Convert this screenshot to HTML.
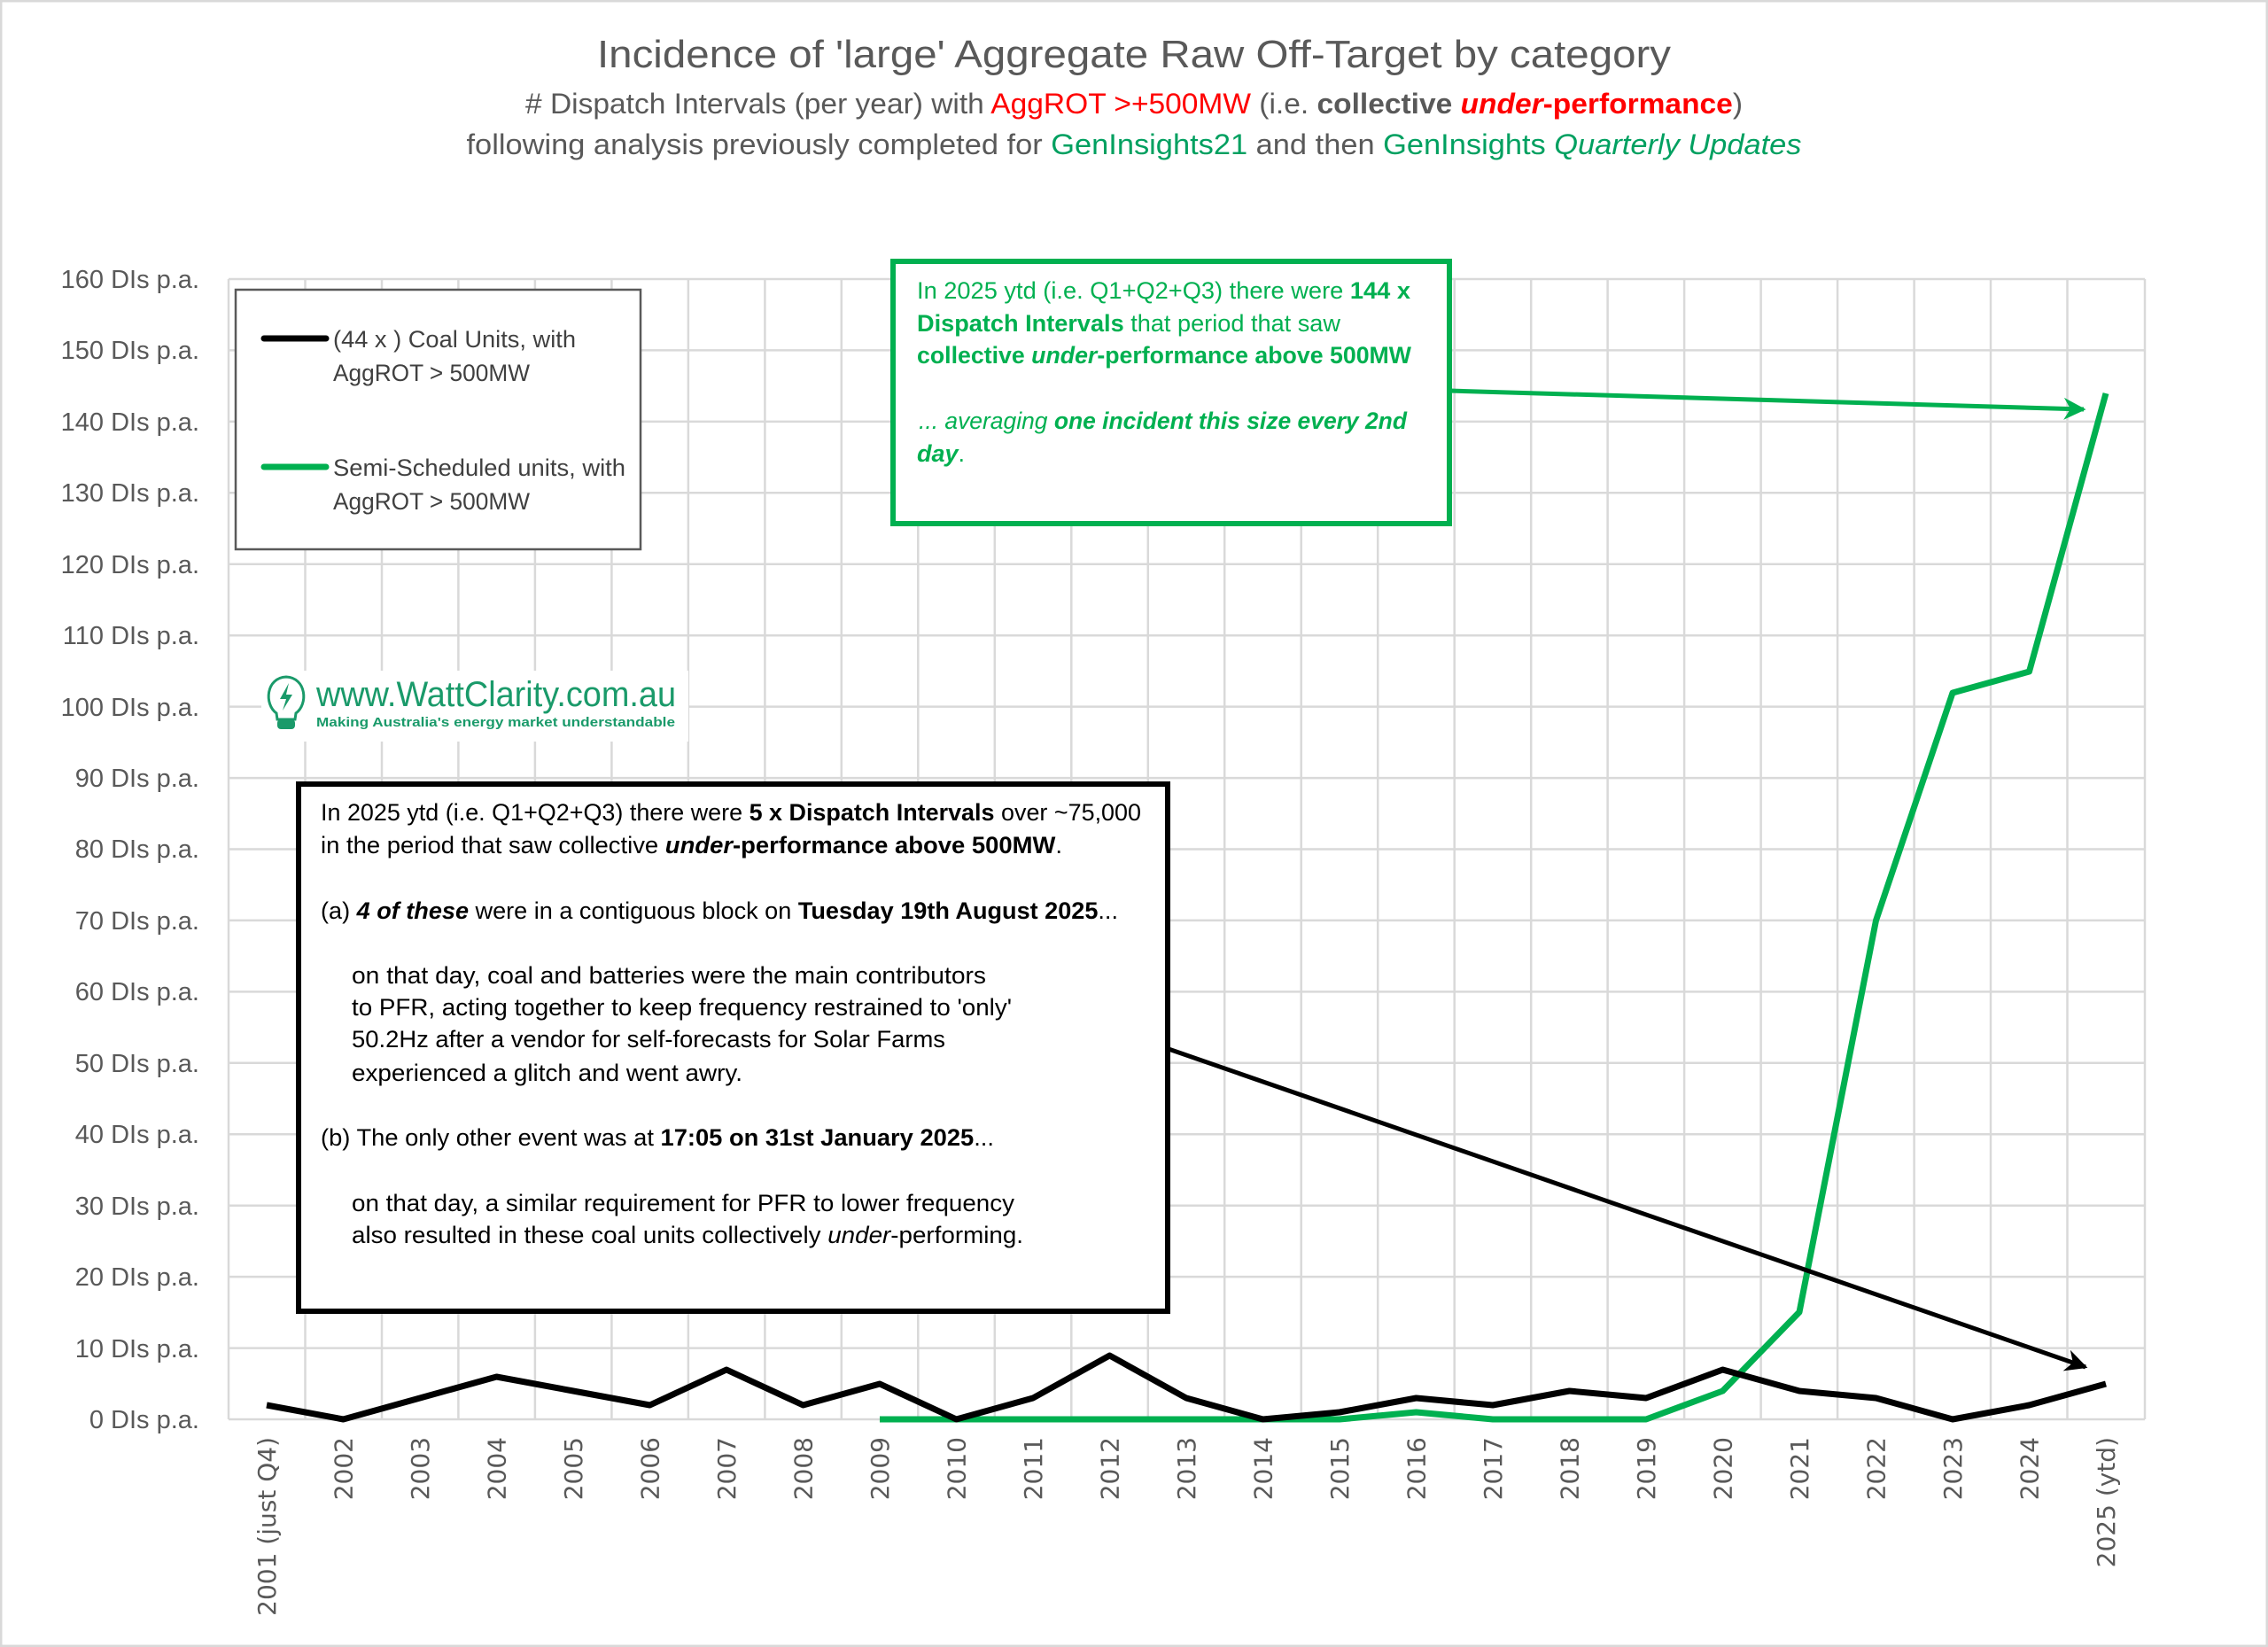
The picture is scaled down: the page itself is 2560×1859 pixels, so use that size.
<!DOCTYPE html>
<html><head><meta charset="utf-8"><style>
html,body{margin:0;padding:0;background:#fff;}
svg{display:block;}
</style></head><body>
<svg width="2560" height="1859" viewBox="0 0 2560 1859" xmlns="http://www.w3.org/2000/svg" font-family="Liberation Sans, sans-serif">
<defs>
<marker id="ab" viewBox="0 0 10 10" refX="9" refY="5" markerWidth="5" markerHeight="5" orient="auto" markerUnits="strokeWidth"><path d="M0,0 L10,5 L0,10 L3,5 z" fill="#000"/></marker>
<marker id="ag" viewBox="0 0 10 10" refX="9" refY="5" markerWidth="5" markerHeight="5" orient="auto" markerUnits="strokeWidth"><path d="M0,0 L10,5 L0,10 L3,5 z" fill="#00b050"/></marker>
</defs>
<rect x="1" y="1" width="2558" height="1857" fill="#fff" stroke="#d9d9d9" stroke-width="3"/>
<text x="1280" y="76" text-anchor="middle" font-size="44" fill="#595959" textLength="1212" lengthAdjust="spacingAndGlyphs">Incidence of 'large' Aggregate Raw Off-Target by category</text>
<text x="1280" y="128" text-anchor="middle" font-size="32" fill="#595959" textLength="1374" lengthAdjust="spacingAndGlyphs"># Dispatch Intervals (per year) with <tspan fill="#ff0000">AggROT &gt;+500MW</tspan> (i.e. <tspan font-weight="bold">collective</tspan> <tspan fill="#ff0000" font-weight="bold"><tspan font-style="italic">under</tspan>-performance</tspan>)</text>
<text x="1280" y="174" text-anchor="middle" font-size="32" fill="#595959" textLength="1507" lengthAdjust="spacingAndGlyphs">following analysis previously completed for <tspan fill="#00a060">GenInsights21</tspan> and then <tspan fill="#00a060">GenInsights <tspan font-style="italic">Quarterly Updates</tspan></tspan></text>
<g stroke="#d9d9d9" stroke-width="2.5">
<line x1="258" y1="1602" x2="2421" y2="1602"/>
<line x1="258" y1="1521.6" x2="2421" y2="1521.6"/>
<line x1="258" y1="1441.1" x2="2421" y2="1441.1"/>
<line x1="258" y1="1360.7" x2="2421" y2="1360.7"/>
<line x1="258" y1="1280.2" x2="2421" y2="1280.2"/>
<line x1="258" y1="1199.8" x2="2421" y2="1199.8"/>
<line x1="258" y1="1119.4" x2="2421" y2="1119.4"/>
<line x1="258" y1="1038.9" x2="2421" y2="1038.9"/>
<line x1="258" y1="958.5" x2="2421" y2="958.5"/>
<line x1="258" y1="878.1" x2="2421" y2="878.1"/>
<line x1="258" y1="797.6" x2="2421" y2="797.6"/>
<line x1="258" y1="717.2" x2="2421" y2="717.2"/>
<line x1="258" y1="636.7" x2="2421" y2="636.7"/>
<line x1="258" y1="556.3" x2="2421" y2="556.3"/>
<line x1="258" y1="475.9" x2="2421" y2="475.9"/>
<line x1="258" y1="395.4" x2="2421" y2="395.4"/>
<line x1="258" y1="315" x2="2421" y2="315"/>
<line x1="258" y1="315" x2="258" y2="1602"/><line x1="344.5" y1="315" x2="344.5" y2="1602"/><line x1="431" y1="315" x2="431" y2="1602"/><line x1="517.4" y1="315" x2="517.4" y2="1602"/><line x1="603.9" y1="315" x2="603.9" y2="1602"/><line x1="690.4" y1="315" x2="690.4" y2="1602"/><line x1="776.9" y1="315" x2="776.9" y2="1602"/><line x1="863.4" y1="315" x2="863.4" y2="1602"/><line x1="949.8" y1="315" x2="949.8" y2="1602"/><line x1="1036.3" y1="315" x2="1036.3" y2="1602"/><line x1="1122.8" y1="315" x2="1122.8" y2="1602"/><line x1="1209.3" y1="315" x2="1209.3" y2="1602"/><line x1="1295.8" y1="315" x2="1295.8" y2="1602"/><line x1="1382.2" y1="315" x2="1382.2" y2="1602"/><line x1="1468.7" y1="315" x2="1468.7" y2="1602"/><line x1="1555.2" y1="315" x2="1555.2" y2="1602"/><line x1="1641.7" y1="315" x2="1641.7" y2="1602"/><line x1="1728.2" y1="315" x2="1728.2" y2="1602"/><line x1="1814.6" y1="315" x2="1814.6" y2="1602"/><line x1="1901.1" y1="315" x2="1901.1" y2="1602"/><line x1="1987.6" y1="315" x2="1987.6" y2="1602"/><line x1="2074.1" y1="315" x2="2074.1" y2="1602"/><line x1="2160.6" y1="315" x2="2160.6" y2="1602"/><line x1="2247" y1="315" x2="2247" y2="1602"/><line x1="2333.5" y1="315" x2="2333.5" y2="1602"/><line x1="2421" y1="315" x2="2421" y2="1602"/>
</g>
<g font-size="29" fill="#595959" text-anchor="end">
<text x="225" y="1612">0 DIs p.a.</text>
<text x="225" y="1532">10 DIs p.a.</text>
<text x="225" y="1451">20 DIs p.a.</text>
<text x="225" y="1371">30 DIs p.a.</text>
<text x="225" y="1290">40 DIs p.a.</text>
<text x="225" y="1210">50 DIs p.a.</text>
<text x="225" y="1129">60 DIs p.a.</text>
<text x="225" y="1049">70 DIs p.a.</text>
<text x="225" y="968">80 DIs p.a.</text>
<text x="225" y="888">90 DIs p.a.</text>
<text x="225" y="808">100 DIs p.a.</text>
<text x="225" y="727">110 DIs p.a.</text>
<text x="225" y="647">120 DIs p.a.</text>
<text x="225" y="566">130 DIs p.a.</text>
<text x="225" y="486">140 DIs p.a.</text>
<text x="225" y="405">150 DIs p.a.</text>
<text x="225" y="325">160 DIs p.a.</text>
</g>
<g font-family="DejaVu Sans, sans-serif" font-size="28" fill="#595959" text-anchor="end">
<text transform="translate(311,1622) rotate(-90)">2001 (just Q4)</text>
<text transform="translate(397.5,1622) rotate(-90)">2002</text>
<text transform="translate(484,1622) rotate(-90)">2003</text>
<text transform="translate(570.5,1622) rotate(-90)">2004</text>
<text transform="translate(657,1622) rotate(-90)">2005</text>
<text transform="translate(743.5,1622) rotate(-90)">2006</text>
<text transform="translate(830,1622) rotate(-90)">2007</text>
<text transform="translate(916.5,1622) rotate(-90)">2008</text>
<text transform="translate(1003,1622) rotate(-90)">2009</text>
<text transform="translate(1089.5,1622) rotate(-90)">2010</text>
<text transform="translate(1176,1622) rotate(-90)">2011</text>
<text transform="translate(1262.5,1622) rotate(-90)">2012</text>
<text transform="translate(1349,1622) rotate(-90)">2013</text>
<text transform="translate(1435.5,1622) rotate(-90)">2014</text>
<text transform="translate(1522,1622) rotate(-90)">2015</text>
<text transform="translate(1608.5,1622) rotate(-90)">2016</text>
<text transform="translate(1695,1622) rotate(-90)">2017</text>
<text transform="translate(1781.5,1622) rotate(-90)">2018</text>
<text transform="translate(1868,1622) rotate(-90)">2019</text>
<text transform="translate(1954.5,1622) rotate(-90)">2020</text>
<text transform="translate(2041,1622) rotate(-90)">2021</text>
<text transform="translate(2127.5,1622) rotate(-90)">2022</text>
<text transform="translate(2214,1622) rotate(-90)">2023</text>
<text transform="translate(2300.5,1622) rotate(-90)">2024</text>
<text transform="translate(2387,1622) rotate(-90)">2025 (ytd)</text>
</g>
<rect x="295" y="757" width="482" height="80" fill="#fff"/>
<g fill="none" stroke="#1a9a6a" stroke-width="3">
<path d="M312,805 C298,795 300,765 323,764 C346,765 348,795 334,805 L333,812 L313,812 Z"/>
</g>
<rect x="313" y="812" width="20" height="11" rx="4" fill="#1a9a6a"/>
<path d="M326,771 L316,789 L323,789 L319,802 L330,784 L323,784 Z" fill="#1a9a6a"/>
<text x="357" y="797" font-size="40" fill="#1a9a6a" textLength="406" lengthAdjust="spacingAndGlyphs">www.WattClarity.com.au</text>
<text x="357" y="820" font-size="15" font-weight="bold" fill="#1a9a6a" textLength="405" lengthAdjust="spacingAndGlyphs">Making Australia's energy market understandable</text>
<polyline fill="none" stroke="#00b050" stroke-width="7" stroke-linejoin="round" points="993,1602 1079.5,1602 1166,1602 1252.5,1602 1339,1602 1425.5,1602 1512,1602 1598.5,1594 1685,1602 1771.5,1602 1858,1602 1944.5,1570 2031,1481 2117.5,1039 2204,782 2290.5,758 2377,444"/>
<polyline fill="none" stroke="#000" stroke-width="7" stroke-linejoin="round" points="301,1586 387.5,1602 474,1578 560.5,1554 647,1570 733.5,1586 820,1546 906.5,1586 993,1562 1079.5,1602 1166,1578 1252.5,1530 1339,1578 1425.5,1602 1512,1594 1598.5,1578 1685,1586 1771.5,1570 1858,1578 1944.5,1546 2031,1570 2117.5,1578 2204,1602 2290.5,1586 2377,1562"/>
<rect x="266" y="327" width="457" height="293" fill="#fff" stroke="#595959" stroke-width="2.5"/>
<line x1="298" y1="382" x2="368" y2="382" stroke="#000" stroke-width="7" stroke-linecap="round"/>
<line x1="298" y1="527" x2="368" y2="527" stroke="#00b050" stroke-width="7" stroke-linecap="round"/>
<g font-size="27" fill="#404040">
<text x="376" y="392" textLength="274" lengthAdjust="spacingAndGlyphs">(44 x ) Coal Units, with</text>
<text x="376" y="430" textLength="222" lengthAdjust="spacingAndGlyphs">AggROT &gt; 500MW</text>
<text x="376" y="537" textLength="330" lengthAdjust="spacingAndGlyphs">Semi-Scheduled units, with</text>
<text x="376" y="575" textLength="222" lengthAdjust="spacingAndGlyphs">AggROT &gt; 500MW</text>
</g>
<line x1="1636" y1="441" x2="2352" y2="462" stroke="#00b050" stroke-width="5" marker-end="url(#ag)"/>
<rect x="1008" y="295" width="628" height="296" fill="#fff" stroke="#00b050" stroke-width="6"/>
<g font-size="27" fill="#00b050">
<text x="1035" y="337" textLength="557" lengthAdjust="spacingAndGlyphs">In 2025 ytd (i.e. Q1+Q2+Q3) there were <tspan font-weight="bold">144 x</tspan></text>
<text x="1035" y="374" textLength="478" lengthAdjust="spacingAndGlyphs"><tspan font-weight="bold">Dispatch Intervals</tspan> that period that saw</text>
<text x="1035" y="410" font-weight="bold" textLength="558" lengthAdjust="spacingAndGlyphs">collective <tspan font-style="italic">under</tspan>-performance above 500MW</text>
<text x="1037" y="484" font-style="italic" textLength="551" lengthAdjust="spacingAndGlyphs"> ... averaging <tspan font-weight="bold">one incident this size every 2nd</tspan></text>
<text x="1035" y="521"><tspan font-style="italic" font-weight="bold">day</tspan>.</text>
</g>
<line x1="1319" y1="1184" x2="2354" y2="1543" stroke="#000" stroke-width="5" marker-end="url(#ab)"/>
<rect x="337" y="885" width="981" height="595" fill="#fff" stroke="#000" stroke-width="6"/>
<g font-size="27" fill="#000">
<text x="362" y="926" textLength="926" lengthAdjust="spacingAndGlyphs">In 2025 ytd (i.e. Q1+Q2+Q3) there were <tspan font-weight="bold">5 x Dispatch Intervals</tspan> over ~75,000</text>
<text x="362" y="963" textLength="837" lengthAdjust="spacingAndGlyphs">in the period that saw collective <tspan font-weight="bold"><tspan font-style="italic">under</tspan>-performance above 500MW</tspan>.</text>
<text x="362" y="1037" textLength="900" lengthAdjust="spacingAndGlyphs">(a)  <tspan font-weight="bold" font-style="italic">4 of these</tspan> were in a contiguous block on <tspan font-weight="bold">Tuesday 19th August 2025</tspan>...</text>
<text x="397" y="1110" textLength="716" lengthAdjust="spacingAndGlyphs">on that day, coal and batteries were the main contributors</text>
<text x="397" y="1146" textLength="745" lengthAdjust="spacingAndGlyphs">to PFR, acting together to keep frequency restrained to 'only'</text>
<text x="397" y="1182" textLength="670" lengthAdjust="spacingAndGlyphs">50.2Hz after a vendor for self-forecasts for Solar Farms</text>
<text x="397" y="1220" textLength="441" lengthAdjust="spacingAndGlyphs">experienced a glitch and went awry.</text>
<text x="362" y="1293" textLength="760" lengthAdjust="spacingAndGlyphs">(b)  The only other event was at <tspan font-weight="bold">17:05 on 31st January 2025</tspan>...</text>
<text x="397" y="1367" textLength="748" lengthAdjust="spacingAndGlyphs">on that day, a similar requirement for PFR to lower frequency</text>
<text x="397" y="1403" textLength="758" lengthAdjust="spacingAndGlyphs">also resulted in these coal units collectively <tspan font-style="italic">under</tspan>-performing.</text>
</g>
</svg>
</body></html>
